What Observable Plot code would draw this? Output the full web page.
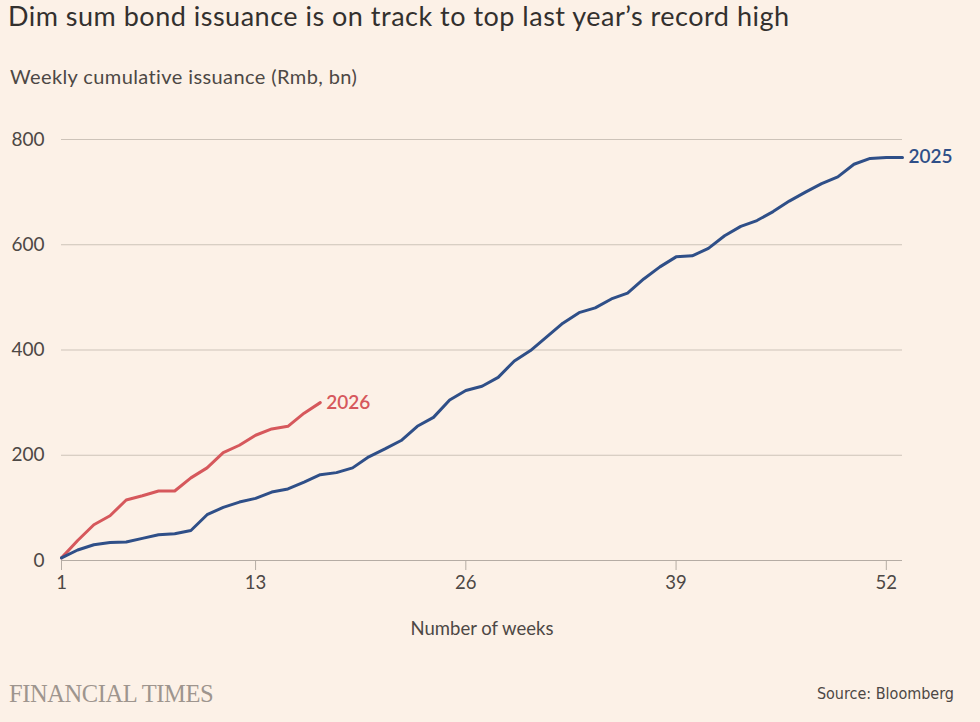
<!DOCTYPE html>
<html>
<head>
<meta charset="utf-8">
<script src="https://cdn.jsdelivr.net/npm/d3@7"></script>
<script src="https://cdn.jsdelivr.net/npm/@observablehq/plot@0.6"></script>
<style>
  html, body { margin: 0; padding: 0; background: #fcf1e7; width: 980px; height: 722px; overflow: hidden; }
  body { position: relative; font-family: Lato, "Noto Sans", sans-serif; }
  .t { position: absolute; white-space: nowrap; line-height: 1.2; }
  #title { left: 8px; top: 0px; font-size: 27px; letter-spacing: 0.5px; color: #33302e; }
  #subtitle { left: 10px; top: 64px; font-size: 20px; letter-spacing: 0.4px; color: #4d4845; }
  #chart { position: absolute; left: 0; top: 110px; }
  #ft { left: 9px; top: 679px; font-family: "Liberation Serif", serif; font-size: 24.5px; color: #9e958e; letter-spacing: -0.4px; }
  #source { right: 26px; top: 684px; font-family: "Liberation Sans Narrow", "DejaVu Sans Condensed", sans-serif; font-size: 16px; color: #4d4845; }
</style>
</head>
<body>
<div class="t" id="title">Dim sum bond issuance is on track to top last year’s record high</div>
<div class="t" id="subtitle">Weekly cumulative issuance (Rmb, bn)</div>
<div id="chart"></div>
<div class="t" id="ft">FINANCIAL TIMES</div>
<div class="t" id="source">Source: Bloomberg</div>
<script>
const values2025 = [5, 20, 30, 34, 35, 42, 49, 51, 57, 87, 101, 111, 118, 130, 136, 149, 163, 167, 176, 197,
  212, 228, 255, 272, 305, 323, 331, 348, 379, 399, 425, 451, 471, 480, 497, 508, 535, 558, 577, 579,
  593, 617, 635, 646, 663, 683, 700, 716, 729, 753, 764, 766, 766];
const values2026 = [5, 38, 68, 85, 115, 123, 132, 132, 157, 176, 205, 219, 238, 250, 255, 280, 300];
const xTicks = [1, 13, 26, 39, 52];
const yTicks = [0, 200, 400, 600, 800];
const seriesNames = ["2025", "2026"];
const colors = {"2025": "#2f4f88", "2026": "#d6585c"};

const data2025 = values2025.map((v, i) => ({week: i + 1, value: v, series: seriesNames[0]}));
const data2026 = values2026.map((v, i) => ({week: i + 1, value: v, series: seriesNames[1]}));

const chart = Plot.plot({
  width: 980,
  height: 540,
  marginLeft: 61,
  marginRight: 78,
  marginTop: 29,
  marginBottom: 90,
  style: {background: "transparent", fontFamily: "Lato, 'Noto Sans', sans-serif", fontSize: "18px", color: "#4d4845", overflow: "visible"},
  x: {domain: [1, 53], label: null},
  y: {domain: [0, 800], label: null},
  marks: [
    Plot.gridY(yTicks.filter(d => d > 0), {stroke: "#cdc3b9", strokeOpacity: 1, strokeWidth: 1}),
    Plot.ruleY([0], {stroke: "#b5aca4", strokeWidth: 1}),
    Plot.axisY(yTicks, {tickSize: 0, tickPadding: 17, label: null, fontSize: 19, fill: "#4d4845"}),
    Plot.axisX(xTicks, {tickSize: 10, tickPadding: 5, stroke: "#b5aca4", fill: "#4d4845", fontSize: 18.5,
      label: "Number of weeks", labelAnchor: "center", labelArrow: "none", labelOffset: 74}),
    Plot.line(data2026, {x: "week", y: "value", stroke: colors["2026"], strokeWidth: 3, curve: "linear"}),
    Plot.line(data2025, {x: "week", y: "value", stroke: colors["2025"], strokeWidth: 3, curve: "linear"}),
    Plot.text(data2026, Plot.selectLast({x: "week", y: "value", text: "series", dx: 6, textAnchor: "start",
      fill: colors["2026"], fontSize: 19, fontWeight: 600})),
    Plot.text(data2025, Plot.selectLast({x: "week", y: "value", text: "series", dx: 6, textAnchor: "start",
      fill: colors["2025"], fontSize: 19, fontWeight: 600}))
  ]
});
document.getElementById("chart").appendChild(chart);
</script>
</body>
</html>
